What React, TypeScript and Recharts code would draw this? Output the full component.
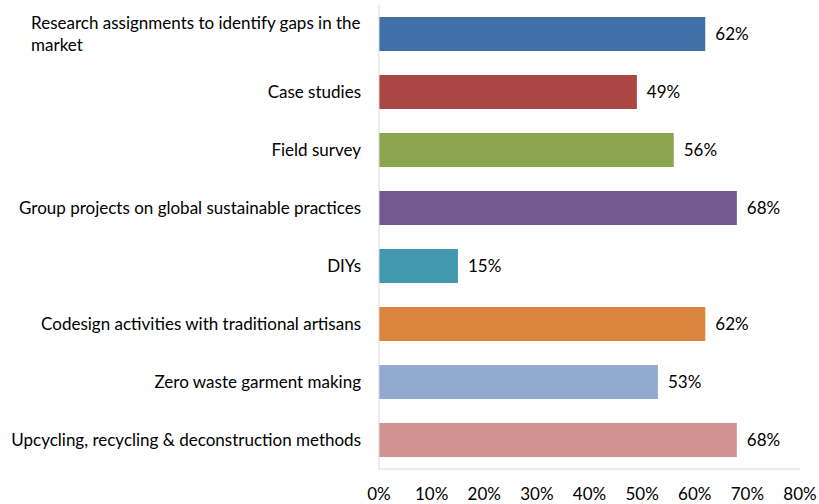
import React from 'react';
import { BarChart, Bar, XAxis, YAxis, Cell, LabelList } from 'recharts';

const categories = [
  'Research assignments to identify gaps in the market',
  'Case studies',
  'Field survey',
  'Group projects on global sustainable practices',
  'DIYs',
  'Codesign activities with traditional artisans',
  'Zero waste garment making',
  'Upcycling, recycling & deconstruction methods',
];
const values = [62, 49, 56, 68, 15, 62, 53, 68];
const colors = ['#4170A8', '#AA4643', '#89A54E', '#71588F', '#4198AF', '#DB843D', '#93A9CF', '#D19392'];
const xTicks = [0, 10, 20, 30, 40, 50, 60, 70, 80];

// the long label is split where Excel wrapped it
const wrapped: Record<string, string[]> = {
  'Research assignments to identify gaps in the market': ['Research assignments to identify gaps in the', 'market'],
};

const FONT = 'Lato, "Open Sans", sans-serif';
const FONT_SIZE = 17;

let ctx: CanvasRenderingContext2D | null = null;
function measure(text: string) {
  if (!ctx) ctx = document.createElement('canvas').getContext('2d');
  if (!ctx) return text.length * 7;
  ctx.font = `${FONT_SIZE}px ${FONT}`;
  return ctx.measureText(text).width;
}

function CategoryTick(props: any) {
  const { x, y, payload } = props;
  const lines = wrapped[payload.value] ?? [payload.value];
  if (lines.length === 1) {
    return (
      <text x={x} y={y} dy="0.35em" textAnchor="end" fontSize={FONT_SIZE} fontFamily={FONT} fill="#000">
        {payload.value}
      </text>
    );
  }
  // block right-aligned, lines left-aligned like in Excel
  const w = Math.max(...lines.map(measure));
  const left = x - w;
  return (
    <text fontSize={FONT_SIZE} fontFamily={FONT} fill="#000">
      {lines.map((l, i) => (
        <tspan key={i} x={left} y={y + (i - (lines.length - 1) / 2) * 22} dy="0.35em">
          {l}
        </tspan>
      ))}
    </text>
  );
}

export default function App() {
  const data = categories.map((c, i) => ({ name: c, value: values[i] }));
  return (
    <div style={{ position: 'absolute', left: 0, top: 0, background: '#fff' }}>
      <BarChart
        width={819}
        height={504}
        data={data}
        layout="vertical"
        margin={{ top: 5, right: 19, left: 0, bottom: 0 }}
      >
        <XAxis
          type="number"
          domain={[0, 80]}
          ticks={xTicks}
          tickFormatter={(v) => `${v}%`}
          axisLine={{ stroke: '#D9D9D9' }}
          tickLine={false}
          tickSize={0}
          tickMargin={19}
          height={35}
          interval={0}
          tick={{ fontSize: FONT_SIZE, fontFamily: FONT, fill: '#000' }}
        />
        <YAxis
          type="category"
          dataKey="name"
          width={379}
          axisLine={{ stroke: '#D9D9D9' }}
          tickLine={false}
          tickSize={0}
          tickMargin={18}
          interval={0}
          tick={<CategoryTick />}
        />
        <Bar dataKey="value" barSize={34} isAnimationActive={false}>
          {data.map((d, i) => (
            <Cell key={d.name} fill={colors[i]} />
          ))}
          <LabelList
            dataKey="value"
            position="right"
            offset={10}
            formatter={(v: any) => `${v}%`}
            style={{ fontSize: FONT_SIZE, fontFamily: FONT, fill: '#000' }}
          />
        </Bar>
      </BarChart>
    </div>
  );
}
